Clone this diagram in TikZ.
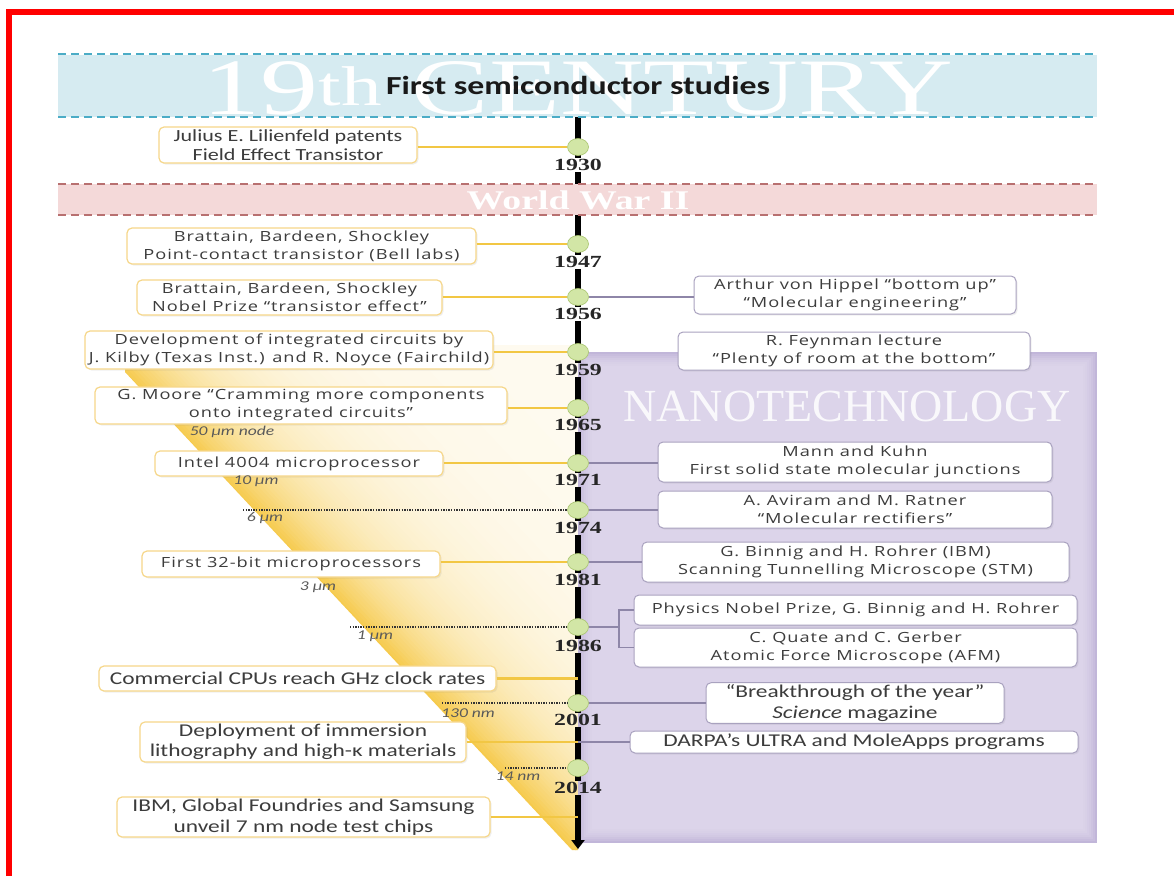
\documentclass[tikz,border=0pt]{standalone}
\usepackage{fontspec}
\setmainfont{Liberation Serif}
\newfontfamily\wfont[FakeStretch=1.3,LetterSpace=7]{Open Sans}
\newfontfamily\cfont[FakeStretch=1.3]{Carlito}
\newfontfamily\yfont[FakeStretch=1.4]{Liberation Serif}
\usetikzlibrary{arrows.meta,shapes.geometric,shadows}
\definecolor{wY}{HTML}{F5C53C}
\definecolor{pu}{HTML}{DCD4EA}
\definecolor{puD}{HTML}{B0A2CE}
\definecolor{blB}{HTML}{D6EBF1}
\definecolor{blD}{HTML}{4BACC6}
\definecolor{pkB}{HTML}{F4D9D9}
\definecolor{pkD}{HTML}{B87070}
\definecolor{lB}{HTML}{F6D78A}
\definecolor{rB}{HTML}{A9A2BF}
\definecolor{lC}{HTML}{F2C744}
\definecolor{rC}{HTML}{8E86A8}
\definecolor{dotF}{HTML}{D2E6A6}
\definecolor{dotD}{HTML}{A8C46E}
\definecolor{tx}{HTML}{3C3C3C}
\tikzset{
  wf/.style={font=\wfont\fontsize{14}{18}\selectfont},
  cf/.style={font=\cfont\fontsize{18}{20.5}\selectfont},
  lbox/.style={draw=lB, line width=1.2pt, fill=white, rounded corners=5pt, align=center, inner sep=2pt, text=tx,
    drop shadow={opacity=0.12, shadow xshift=1.5pt, shadow yshift=-1.5pt}},
  rbox/.style={draw=rB, line width=1pt, fill=white, rounded corners=5pt, align=center, inner sep=2pt, text=tx,
    drop shadow={opacity=0.12, shadow xshift=1.5pt, shadow yshift=-1.5pt}},
  yr/.style={font=\yfont\bfseries\fontsize{17}{17}\selectfont, text=black!85, inner sep=1.5pt},
  dot/.style={ellipse, minimum width=21pt, minimum height=17pt, fill=dotF, draw=dotD, line width=0.6pt, inner sep=0pt},
  tline/.style={line width=6.5pt, black},
  lconn/.style={line width=2.4pt, lC},
  rconn/.style={line width=1.6pt, rC},
  dline/.style={line width=1.3pt, black!80, dash pattern=on 1.3pt off 1.3pt},
  nlab/.style={font=\cfont\itshape\fontsize{13.5}{13.5}\selectfont, text=black!65, inner sep=0pt},
}
\begin{document}
\begin{tikzpicture}[x=1pt,y=-1pt]
\useasboundingbox (0,0) rectangle (1174,876);
\fill[white] (0,0) rectangle (1174,876);
% red frame
\draw[line width=6pt, red] (9,876) -- (9,12) -- (1174,12);

% yellow wedge
\begin{scope}
\clip (125,345) -- (578,345) -- (578,850) -- (572,850) -- (125,372) -- cycle;
\foreach \d in {0,3,...,480} {
  \pgfmathtruncatemacro\p{8+84*exp(-\d/60)}
  \draw[line width=3.8pt, color=wY!\p!white, shift={(0.7289*\d,-0.6845*\d)}] (56,299) -- (613,892);
}
\end{scope}

% purple nanotechnology area
\fill[pu] (578,352) rectangle (1097,843);
\foreach \i/\o in {1/0.6,3/0.45,5/0.32,7/0.22,9/0.14,11/0.08,13/0.04}{
  \draw[puD, opacity=\o, line width=2.2pt] (578+\i,352+\i) rectangle (1097-\i,843-\i);
}
\node[text=white, opacity=0.85, font=\fontsize{46}{46}\selectfont] (nano) at (847,406) {NANOTECHNOLOGY};

% coordinates
\coordinate (ttop) at (578,117);
\coordinate (tbot) at (578,849);
\coordinate (tl) at (578,0);

% year labels
\node[yr] (y1930) at (578,165) {1930};
\node[yr] (y1947) at (578,262) {1947};
\node[yr] (y1956) at (578,314) {1956};
\node[yr] (y1959) at (578,370) {1959};
\node[yr] (y1965) at (578,425) {1965};
\node[yr] (y1971) at (578,480) {1971};
\node[yr] (y1974) at (578,528) {1974};
\node[yr] (y1981) at (578,580) {1981};
\node[yr] (y1986) at (578,646) {1986};
\node[yr] (y2001) at (578,720) {2001};
\node[yr] (y2014) at (578,788) {2014};

% timeline segments
\draw[tline] (ttop) -- (y1930.north);
\draw[tline] (y1930.south) -- (y1947.north);
\draw[tline] (y1947.south) -- (y1956.north);
\draw[tline] (y1956.south) -- (y1959.north);
\draw[tline] (y1959.south) -- (y1965.north);
\draw[tline] (y1965.south) -- (y1971.north);
\draw[tline] (y1971.south) -- (y1974.north);
\draw[tline] (y1974.south) -- (y1981.north);
\draw[tline] (y1981.south) -- (y1986.north);
\draw[tline] (y1986.south) -- (y2001.north);
\draw[tline] (y2001.south) -- (y2014.north);
\draw[tline, -{Triangle[width=13pt,length=9pt]}] (y2014.south) -- (tbot);

% 19th century band
\fill[blB] (58,55) rectangle (1097,117);
\node[text=white, font=\fontsize{80}{80}\selectfont, xscale=1.45, inner sep=0pt] (cent) at (578,88) {19\textsuperscript{th} CENTURY};
\draw[blD, line width=1.6pt, dash pattern=on 8pt off 5pt] (58,54) -- (1097,54);
\draw[blD, line width=1.6pt, dash pattern=on 8pt off 5pt] (58,117) -- (1097,117);
\node[font=\cfont\bfseries\fontsize{26}{26}\selectfont, text=black!90] (semi) at (578,85) {First semiconductor studies};

% WWII band
\fill[pkB] (58,184) rectangle (1097,215);
\node[text=white, font=\yfont\bfseries\fontsize{27}{27}\selectfont, inner sep=0pt] (ww) at (578,200) {World War II};
\draw[pkD, line width=1.6pt, dash pattern=on 8pt off 5pt] (58,184) -- (1097,184);
\draw[pkD, line width=1.6pt, dash pattern=on 8pt off 5pt] (58,215) -- (1097,215);

% circles
\node[dot] (c1930) at (578,147) {};
\node[dot] (c1947) at (578,244) {};
\node[dot] (c1956) at (578,297) {};
\node[dot] (c1959) at (578,352) {};
\node[dot] (c1965) at (578,408) {};
\node[dot] (c1971) at (578,463) {};
\node[dot] (c1974) at (578,510) {};
\node[dot] (c1981) at (578,562) {};
\node[dot] (c1986) at (578,627) {};
\node[dot] (c2001) at (578,703) {};
\node[dot] (c2014) at (578,768) {};

% left boxes
\node[lbox, font=\cfont\fontsize{17}{19}\selectfont, minimum width=258pt, minimum height=36pt] (J) at (288,145) {Julius E. Lilienfeld patents\\Field Effect Transistor};
\node[lbox, wf, minimum width=349pt, minimum height=36pt] (B1) at (301.5,246) {Brattain, Bardeen, Shockley\\Point-contact transistor (Bell labs)};
\node[lbox, wf, minimum width=305pt, minimum height=35pt] (B2) at (289.5,297.5) {Brattain, Bardeen, Shockley\\Nobel Prize “transistor effect”};
\node[lbox, wf, minimum width=408pt, minimum height=38pt] (D) at (289,350) {Development of integrated circuits by\\J. Kilby (Texas Inst.) and R. Noyce (Fairchild)};
\node[lbox, wf, minimum width=412pt, minimum height=37pt] (M) at (301,405.5) {G. Moore “Cramming more components\\onto integrated circuits”};
\node[lbox, wf, minimum width=288pt, minimum height=25pt] (I) at (299,463.5) {Intel 4004 microprocessor};
\node[lbox, wf, minimum width=298pt, minimum height=26pt] (F) at (291,564) {First 32-bit microprocessors};
\node[lbox, cf, minimum width=397pt, minimum height=25pt] (C) at (297.5,678.5) {Commercial CPUs reach GHz clock rates};
\node[lbox, cf, minimum width=326pt, minimum height=40pt] (Dp) at (303,742) {Deployment of immersion\\lithography and high-κ materials};
\node[lbox, cf, minimum width=373pt, minimum height=40pt] (IBM) at (303.5,817) {IBM, Global Foundries and Samsung\\unveil 7 nm node test chips};

% node-size labels and dotted markers
\node[nlab] (n50) at (232,432) {50 µm node};
\node[nlab] (n10) at (256,481) {10 µm};
\coordinate (d6) at (243,510);
\node[nlab] (n6) at (265,518) {6 µm};
\node[nlab] (n3) at (318,587) {3 µm};
\coordinate (d1) at (350,627);
\node[nlab] (n1) at (375,636) {1 µm};
\coordinate (d130) at (442,703);
\node[nlab] (n130) at (468,713) {130 nm};
\coordinate (d14) at (505,768);
\node[nlab] (n14) at (518,776) {14 nm};
\draw[dline] (d6) -- (d6 -| c1974.west);
\draw[dline] (d1) -- (d1 -| c1986.west);
\draw[dline] (d130) -- (d130 -| c2001.west);
\draw[dline] (d14) -- (d14 -| c2014.west);

% left connectors
\draw[lconn] (J.east |- c1930) -- (c1930.west);
\draw[lconn] (B1.east |- c1947) -- (c1947.west);
\draw[lconn] (B2.east |- c1956) -- (c1956.west);
\draw[lconn] (D.east |- c1959) -- (c1959.west);
\draw[lconn] (M.east |- c1965) -- (c1965.west);
\draw[lconn] (I.east |- c1971) -- (c1971.west);
\draw[lconn] (F.east |- c1981) -- (c1981.west);
\draw[lconn] (C.east) -- (C.east -| tl);
\draw[lconn] (Dp.east) -- (Dp.east -| tl);
\draw[lconn] (IBM.east) -- (IBM.east -| tl);

% right boxes
\node[rbox, wf, minimum width=322pt, minimum height=38pt] (R1) at (855,295) {Arthur von Hippel “bottom up”\\“Molecular engineering”};
\node[rbox, wf, minimum width=352pt, minimum height=38pt] (R2) at (854,351) {R. Feynman lecture\\“Plenty of room at the bottom”};
\node[rbox, wf, minimum width=394pt, minimum height=40pt] (R3) at (855,462) {Mann and Kuhn\\First solid state molecular junctions};
\node[rbox, wf, minimum width=394pt, minimum height=37pt] (R4) at (855,509.5) {A. Aviram and M. Ratner\\“Molecular rectifiers”};
\node[rbox, wf, minimum width=427pt, minimum height=40pt] (R5) at (855.5,562) {G. Binnig and H. Rohrer (IBM)\\Scanning Tunnelling Microscope (STM)};
\node[rbox, wf, minimum width=443pt, minimum height=30pt] (R6) at (855.5,610) {Physics Nobel Prize, G. Binnig and H. Rohrer};
\node[rbox, wf, minimum width=443pt, minimum height=39pt] (R7) at (855.5,647.5) {C. Quate and C. Gerber\\Atomic Force Microscope (AFM)};
\node[rbox, cf, minimum width=298pt, minimum height=38pt] (R8) at (855,703) {“Breakthrough of the year”\\\textit{Science} magazine};
\node[rbox, cf, minimum width=448pt, minimum height=22pt] (R9) at (854,742) {DARPA’s ULTRA and MoleApps programs};

% right connectors
\coordinate (br) at (619,627);
\draw[rconn] (c1956.east) -- (c1956.east -| R1.west);
\draw[rconn] (c1971.east) -- (c1971.east -| R3.west);
\draw[rconn] (c1974.east) -- (c1974.east -| R4.west);
\draw[rconn] (c1981.east) -- (c1981.east -| R5.west);
\draw[rconn] (c1986.east) -- (br);
\draw[rconn] (R6.west) -- (R6.west -| br) -- (R7.west -| br) -- (R7.west);
\draw[rconn] (c2001.east) -- (c2001.east -| R8.west);
\draw[rconn] (R9.west -| tl) -- (R9.west);
\end{tikzpicture}
\end{document}
